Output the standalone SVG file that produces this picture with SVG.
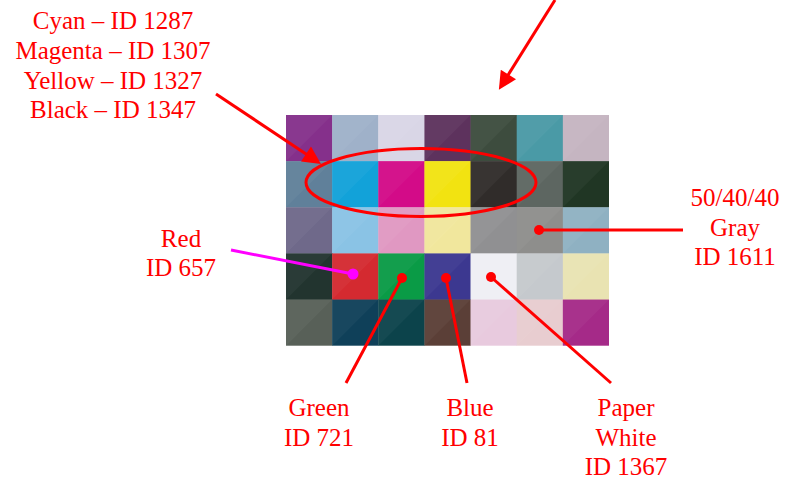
<svg xmlns="http://www.w3.org/2000/svg" width="787" height="481" viewBox="0 0 787 481">
<style>
  .lbl { font-family: "Liberation Serif", "DejaVu Serif", serif; font-size: 25px; fill: #ff0000; text-anchor: middle; }
  .ln { stroke: #ff0000; stroke-width: 3; fill: none; }
  .dot { fill: #ff0000; }
  .tri { fill: #ffffff; fill-opacity: 0.04; }
</style>
<defs>
  <marker id="ah" viewBox="0 0 10 10" refX="2" refY="5" markerWidth="6.5" markerHeight="6" orient="auto" markerUnits="strokeWidth">
    <path d="M0,0 L10,5 L0,10 z" fill="#ff0000"/>
  </marker>
  <path id="t" d="M0,0 H46.14 L0,46.14 Z"/>
</defs>
<rect width="787" height="481" fill="#ffffff"/>
<g id="chart">
  <!-- row 0 -->
  <rect x="286" y="115" width="46.5" height="46.5" fill="#85308b"/>
  <rect x="332.14" y="115" width="46.5" height="46.5" fill="#9fb1c9"/>
  <rect x="378.28" y="115" width="46.5" height="46.5" fill="#d9d6e6"/>
  <rect x="424.42" y="115" width="46.5" height="46.5" fill="#5d325d"/>
  <rect x="470.56" y="115" width="46.5" height="46.5" fill="#3d4c3e"/>
  <rect x="516.7" y="115" width="46.5" height="46.5" fill="#4a9aa6"/>
  <rect x="562.84" y="115" width="46.16" height="46.5" fill="#c5b5c1"/>
  <!-- row 1 -->
  <rect x="286" y="161.14" width="46.5" height="46.5" fill="#60809a"/>
  <rect x="332.14" y="161.14" width="46.5" height="46.5" fill="#12a2d9"/>
  <rect x="378.28" y="161.14" width="46.5" height="46.5" fill="#d30b88"/>
  <rect x="424.42" y="161.14" width="46.5" height="46.5" fill="#f2e311"/>
  <rect x="470.56" y="161.14" width="46.5" height="46.5" fill="#302c2a"/>
  <rect x="516.7" y="161.14" width="46.5" height="46.5" fill="#5d6661"/>
  <rect x="562.84" y="161.14" width="46.16" height="46.5" fill="#203624"/>
  <!-- row 2 -->
  <rect x="286" y="207.28" width="46.5" height="46.5" fill="#6f698a"/>
  <rect x="332.14" y="207.28" width="46.5" height="46.5" fill="#8ac3e5"/>
  <rect x="378.28" y="207.28" width="46.5" height="46.5" fill="#e098c2"/>
  <rect x="424.42" y="207.28" width="46.5" height="46.5" fill="#f1e79d"/>
  <rect x="470.56" y="207.28" width="46.5" height="46.5" fill="#909092"/>
  <rect x="516.7" y="207.28" width="46.5" height="46.5" fill="#8e8e8c"/>
  <rect x="562.84" y="207.28" width="46.16" height="46.5" fill="#8fb1c2"/>
  <!-- row 3 -->
  <rect x="286" y="253.42" width="46.5" height="46.5" fill="#22342f"/>
  <rect x="332.14" y="253.42" width="46.5" height="46.5" fill="#d42a30"/>
  <rect x="378.28" y="253.42" width="46.5" height="46.5" fill="#0a9b46"/>
  <rect x="424.42" y="253.42" width="46.5" height="46.5" fill="#3c3890"/>
  <rect x="470.56" y="253.42" width="46.5" height="46.5" fill="#efeff4"/>
  <rect x="516.7" y="253.42" width="46.5" height="46.5" fill="#c5c9cd"/>
  <rect x="562.84" y="253.42" width="46.16" height="46.5" fill="#e9e3b2"/>
  <!-- row 4 -->
  <rect x="286" y="299.56" width="46.5" height="46.14" fill="#586058"/>
  <rect x="332.14" y="299.56" width="46.5" height="46.14" fill="#0f4059"/>
  <rect x="378.28" y="299.56" width="46.5" height="46.14" fill="#0c434b"/>
  <rect x="424.42" y="299.56" width="46.5" height="46.14" fill="#5b3f37"/>
  <rect x="470.56" y="299.56" width="46.5" height="46.14" fill="#e8cade"/>
  <rect x="516.7" y="299.56" width="46.5" height="46.14" fill="#e8cdd0"/>
  <rect x="562.84" y="299.56" width="46.16" height="46.14" fill="#a52a88"/>
  <!-- diagonal shading -->
  <g class="tri">
    <use href="#t" x="286" y="115"/><use href="#t" x="332.14" y="115"/><use href="#t" x="378.28" y="115"/><use href="#t" x="424.42" y="115"/><use href="#t" x="470.56" y="115"/><use href="#t" x="516.7" y="115"/><use href="#t" x="562.84" y="115"/>
    <use href="#t" x="286" y="161.14"/><use href="#t" x="332.14" y="161.14"/><use href="#t" x="378.28" y="161.14"/><use href="#t" x="424.42" y="161.14"/><use href="#t" x="470.56" y="161.14"/><use href="#t" x="516.7" y="161.14"/><use href="#t" x="562.84" y="161.14"/>
    <use href="#t" x="286" y="207.28"/><use href="#t" x="332.14" y="207.28"/><use href="#t" x="378.28" y="207.28"/><use href="#t" x="424.42" y="207.28"/><use href="#t" x="470.56" y="207.28"/><use href="#t" x="516.7" y="207.28"/><use href="#t" x="562.84" y="207.28"/>
    <use href="#t" x="286" y="253.42"/><use href="#t" x="332.14" y="253.42"/><use href="#t" x="378.28" y="253.42"/><use href="#t" x="424.42" y="253.42"/><use href="#t" x="470.56" y="253.42"/><use href="#t" x="516.7" y="253.42"/><use href="#t" x="562.84" y="253.42"/>
    <use href="#t" x="286" y="299.56"/><use href="#t" x="332.14" y="299.56"/><use href="#t" x="378.28" y="299.56"/><use href="#t" x="424.42" y="299.56"/><use href="#t" x="470.56" y="299.56"/><use href="#t" x="516.7" y="299.56"/><use href="#t" x="562.84" y="299.56"/>
  </g>
</g>
<g id="connectors">
  <ellipse class="ln" cx="421" cy="182.5" rx="115" ry="34"/>
  <line class="ln" x1="555" y1="0" x2="506.5" y2="77.5" marker-end="url(#ah)"/>
  <line class="ln" x1="216" y1="94" x2="309" y2="156" marker-end="url(#ah)"/>
  <line class="ln" x1="539" y1="230" x2="683" y2="230"/>
  <line x1="231" y1="250" x2="353" y2="274" stroke="#ff00ff" stroke-width="3"/>
  <line class="ln" x1="402" y1="278" x2="346" y2="383"/>
  <line class="ln" x1="446" y1="278" x2="467" y2="383"/>
  <line class="ln" x1="491" y1="277" x2="611" y2="383"/>
  <circle class="dot" cx="539" cy="230" r="5"/>
  <circle cx="353" cy="274" r="5.5" fill="#ff00ff"/>
  <circle class="dot" cx="402" cy="278" r="5"/>
  <circle class="dot" cx="446" cy="278" r="5"/>
  <circle class="dot" cx="491" cy="277" r="5"/>
</g>
<g id="label-cmyk">
  <text class="lbl" x="113" y="29">Cyan – ID 1287</text>
  <text class="lbl" x="113" y="59">Magenta – ID 1307</text>
  <text class="lbl" x="113" y="89">Yellow – ID 1327</text>
  <text class="lbl" x="113" y="118">Black – ID 1347</text>
</g>
<g id="label-gray">
  <text class="lbl" x="735" y="206">50/40/40</text>
  <text class="lbl" x="735" y="236">Gray</text>
  <text class="lbl" x="735" y="265">ID 1611</text>
</g>
<g id="label-red">
  <text class="lbl" x="181" y="247">Red</text>
  <text class="lbl" x="181" y="276">ID 657</text>
</g>
<g id="label-green">
  <text class="lbl" x="319" y="416">Green</text>
  <text class="lbl" x="319" y="446">ID 721</text>
</g>
<g id="label-blue">
  <text class="lbl" x="470" y="416">Blue</text>
  <text class="lbl" x="470" y="446">ID 81</text>
</g>
<g id="label-white">
  <text class="lbl" x="626" y="416">Paper</text>
  <text class="lbl" x="626" y="446">White</text>
  <text class="lbl" x="626" y="475">ID 1367</text>
</g>
</svg>
